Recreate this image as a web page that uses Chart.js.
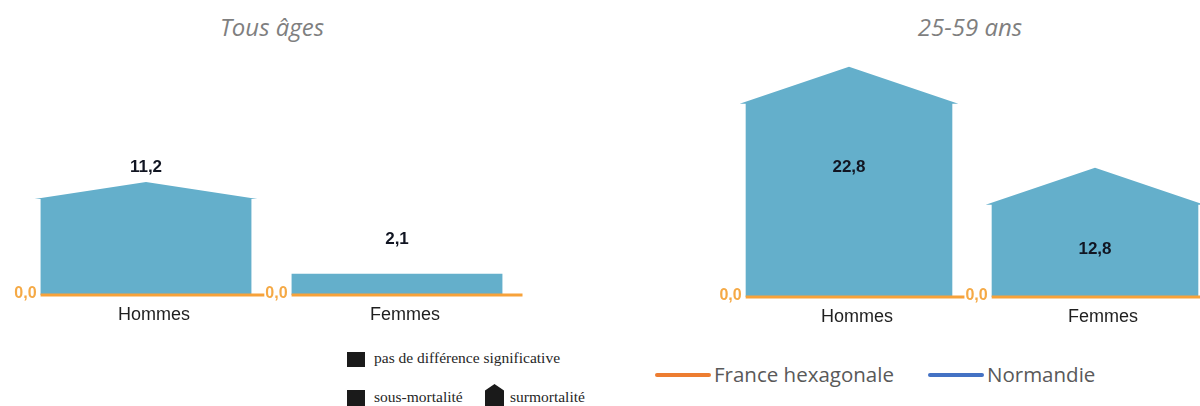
<!DOCTYPE html>
<html lang="fr">
<head>
<meta charset="utf-8">
<script src="https://cdn.jsdelivr.net/npm/chart.js@4/dist/chart.umd.min.js"></script>
<style>
  html, body { margin: 0; padding: 0; background: #fff; }
  body { width: 1200px; height: 406px; overflow: hidden; position: relative; }
  .panel { position: absolute; top: 0; }
  .title { position: absolute; top: 10px; font: italic 24px "Open Sans", sans-serif; color: #7f7f7f; transform: translateX(-50%); white-space: nowrap; }
  .sq { position: absolute; width: 18px; height: 15px; background: #1a1a1a; }
  .house { position: absolute; width: 19px; height: 22px; background: #1a1a1a; clip-path: polygon(50% 0, 100% 30%, 100% 100%, 0 100%, 0 30%); }
  .serif { position: absolute; font: 15.5px "Liberation Serif", "Times New Roman", serif; color: #262626; line-height: 18px; white-space: nowrap; }
  .lmark { position: absolute; height: 4px; border-radius: 2px; }
  .ltxt { position: absolute; font: 20.5px "Open Sans", sans-serif; color: #595959; line-height: 26px; white-space: nowrap; }
</style>
</head>
<body>

<div class="title" id="t1" style="left:272px"></div>
<div class="title" id="t2" style="left:970px"></div>

<div class="panel" style="left:0; width:560px; height:340px;"><canvas id="chartTous" width="560" height="340"></canvas></div>
<div class="panel" style="left:600px; width:630px; height:340px;"><canvas id="chart2559" width="630" height="340"></canvas></div>

<!-- legende des formes -->
<div class="sq" style="left:347px; top:352px;"></div>
<div class="serif" style="left:374px; top:349px;">pas de différence significative</div>
<div class="sq" style="left:347px; top:390px; height:16px;"></div>
<div class="serif" style="left:374px; top:388px;">sous-mortalité</div>
<div class="house" style="left:485px; top:384px;"></div>
<div class="serif" style="left:510px; top:388px;">surmortalité</div>

<!-- legende des territoires -->
<div class="lmark" style="left:655px; top:373px; width:56px; background:#ed7d31;"></div>
<div class="ltxt" style="left:714px; top:361px;">France hexagonale</div>
<div class="lmark" style="left:928px; top:373px; width:56px; background:#4472c4;"></div>
<div class="ltxt" style="left:987px; top:361px;">Normandie</div>

<script>
// donnees
const categories = ["Hommes", "Femmes"];
const panelTitles = ["Tous âges", "25-59 ans"];
const tousAgesValues = [11.2, 2.1];
const tousAgesSignif = ["sur", "ns"];
const age2559Values = [22.8, 12.8];
const age2559Signif = ["sur", "sur"];
const franceValues = [0, 0];

document.getElementById("t1").textContent = panelTitles[0];
document.getElementById("t2").textContent = panelTitles[1];

function fr(v) {
    return v.toFixed(1).replace(".", ",");
}

// dessine les barres en forme de maison + la ligne France a 0
const housePlugin = {
    id: "house",
    afterDatasetsDraw(chart, args, o) {
        const ctx = chart.ctx;
        const xs = chart.scales.x;
        const ys = chart.scales.y;
        const bars = chart.getDatasetMeta(0).data;
        const catW = xs.width / bars.length;
        ctx.save();

        bars.forEach((b, i) => {
            const left = b.x - b.width / 2;
            const right = b.x + b.width / 2;
            ctx.fillStyle = o.color;
            ctx.beginPath();
            if (o.shapes[i] === "sur") {
                const eaves = b.y + o.roof;
                ctx.moveTo(left, b.base);
                ctx.lineTo(left, eaves);
                ctx.lineTo(left - o.overhang, eaves);
                ctx.lineTo(b.x, b.y);
                ctx.lineTo(right + o.overhang, eaves);
                ctx.lineTo(right, eaves);
                ctx.lineTo(right, b.base);
            } else {
                ctx.rect(left, b.y, b.width, b.base - b.y);
            }
            ctx.closePath();
            ctx.fill();
        });

        // France hexagonale (reference 0)
        bars.forEach((b, i) => {
            const y0 = ys.getPixelForValue(franceValues[i]);
            ctx.strokeStyle = "#f7a23a";
            ctx.lineWidth = 3;
            ctx.beginPath();
            ctx.moveTo(b.x - b.width / 2, y0);
            ctx.lineTo(b.x + catW / 2, y0);
            ctx.stroke();
        });

        ctx.font = "bold 16px 'Liberation Sans', Arial, sans-serif";
        ctx.textBaseline = "middle";
        bars.forEach((b, i) => {
            const y0 = ys.getPixelForValue(franceValues[i]);
            const txt = fr(franceValues[i]);
            const w = ctx.measureText(txt).width;
            const xr = b.x - b.width / 2 - 4;
            ctx.fillStyle = "#fff";
            ctx.fillRect(xr - w - 1, y0 - 9, w + 2, 18);
            ctx.fillStyle = "#f5a945";
            ctx.textAlign = "right";
            ctx.fillText(txt, xr, y0 - 1);
        });

        // valeurs
        ctx.font = "bold 17px 'Liberation Sans', Arial, sans-serif";
        ctx.textAlign = "center";
        ctx.fillStyle = "#111522";
        bars.forEach((b, i) => {
            const v = chart.data.datasets[0].data[i];
            ctx.fillText(fr(v), b.x, b.y + o.labelOffsets[i]);
        });
        ctx.restore();
    }
};

function makePanel(id, values, signif, pad, roof, labelOffsets) {
    return new Chart(document.getElementById(id), {
        type: "bar",
        data: {
            labels: categories,
            datasets: [{
                label: "Normandie",
                data: values,
                backgroundColor: "rgba(0,0,0,0)",
                borderWidth: 0,
                categoryPercentage: 1,
                barPercentage: 0.84
            }]
        },
        options: {
            responsive: false,
            animation: false,
            events: [],
            layout: { padding: pad },
            scales: {
                x: {
                    grid: { display: false, drawTicks: false },
                    border: { display: false },
                    ticks: {
                        padding: 9,
                        labelOffset: 8,
                        color: "#1f1f1f",
                        font: { family: "'Liberation Sans', Arial, sans-serif", size: 18 }
                    }
                },
                y: { display: false, min: 0, max: 24 }
            },
            plugins: {
                legend: { display: false },
                tooltip: { enabled: false },
                house: {
                    color: "#64afcb",
                    shapes: signif,
                    roof: roof,
                    overhang: 6,
                    labelOffsets: labelOffsets
                }
            }
        },
        plugins: [housePlugin]
    });
}

makePanel("chartTous", tousAgesValues, tousAgesSignif,
    { left: 20.5, right: 37.5, top: 52.6, bottom: 5.4 }, 17, [-15, -34]);
makePanel("chart2559", age2559Values, age2559Signif,
    { left: 126, right: 12, top: 54.6, bottom: 3.4 }, 37, [101, 82]);
</script>
</body>
</html>
